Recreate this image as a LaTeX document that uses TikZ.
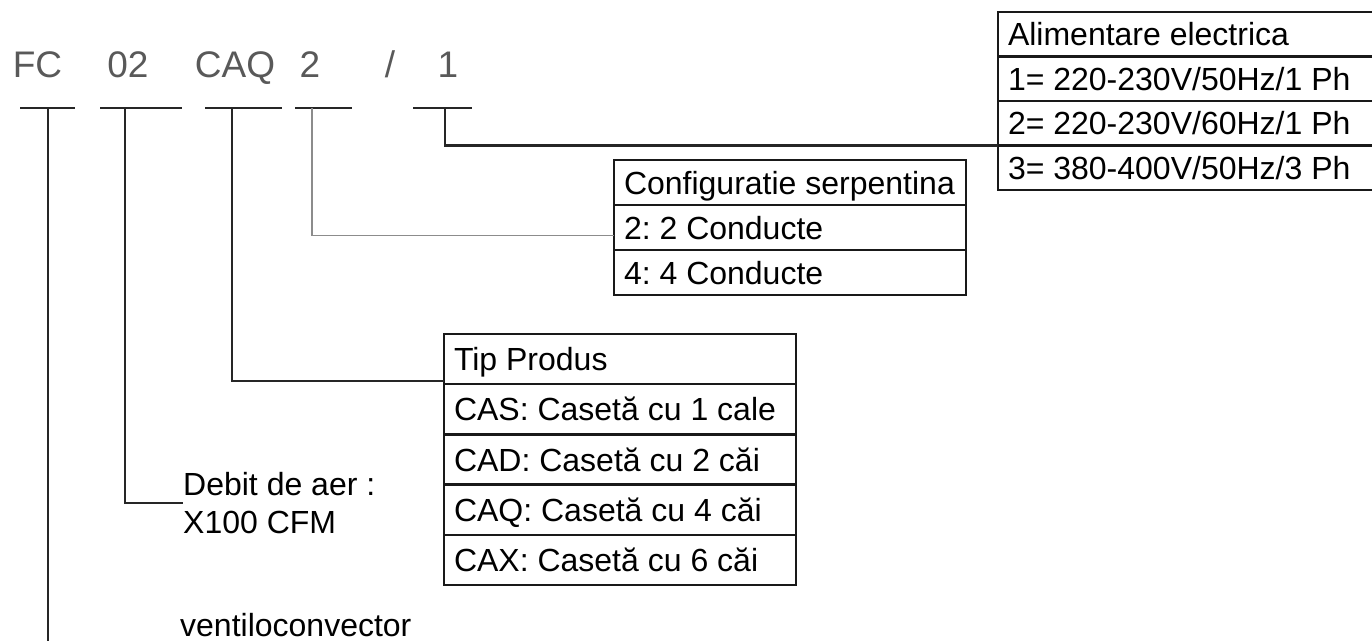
\documentclass[tikz,border=0pt]{standalone}
\usepackage{fontspec}
\setmainfont{Liberation Sans}
\frenchspacing
\newcommand{\cellL}[2]{\makebox[#1][l]{#2}}
\begin{document}
\begin{tikzpicture}[x=1pt,y=-1pt,
  cell/.style={draw=black!90, line width=2.3pt, anchor=north west, inner xsep=10pt, inner ysep=0pt,
    text height=23pt, text depth=0pt, font=\fontsize{32}{38}\selectfont\frenchspacing, outer sep=0pt},
  altab/.style={cell, minimum height=44.5pt},
  cstab/.style={cell, minimum height=45pt},
  tptab/.style={cell, minimum height=50.2pt},
  code/.style={anchor=base, text=black!65, font=\fontsize{37}{40}\selectfont, inner sep=0pt},
  bar/.style={line width=2.2pt, draw=black!85},
  conn/.style={line width=2.2pt, draw=black!85},
  lightconn/.style={line width=1.6pt, draw=black!45},
  lbl/.style={anchor=base west, inner sep=0pt, font=\fontsize{32}{38}\selectfont\frenchspacing}]
\useasboundingbox (0,0) rectangle (1372,640);
\clip (0,0) rectangle (1372,640);

% code tokens
\node[code] (fc)  at (37.5,77) {FC};
\node[code] (n02) at (128,77) {02};
\node[code] (caq) at (235,77) {CAQ};
\node[code] (n2)  at (310,77) {2};
\node[code] (sl)  at (390,77) {/};
\node[code] (n1)  at (448,77) {1};

% T bars
\coordinate (tFC) at (48,108);
\coordinate (t02) at (125,108);
\coordinate (tCAQ) at (232,108);
\coordinate (t2) at (312,108);
\coordinate (t1) at (445,108);
\draw[bar] (20,108) -- (75,108);
\draw[bar] (100,108) -- (182,108);
\draw[bar] (205,108) -- (282,108);
\draw[bar] (295,108) -- (352,108);
\draw[bar] (413,108) -- (472,108);

% Alimentare electrica table
\node[altab] (al0) at (998,12) {\cellL{362pt}{Alimentare electrica}};
\node[altab] (al1) at (al0.south west) {\cellL{362pt}{1= 220-230V/50Hz/1 Ph}};
\node[altab] (al2) at (al1.south west) {\cellL{362pt}{2= 220-230V/60Hz/1 Ph}};
\node[altab] (al3) at (al2.south west) {\cellL{362pt}{3= 380-400V/50Hz/3 Ph}};

% Configuratie serpentina table
\node[cstab] (cs0) at (614,160) {\cellL{332pt}{Configuratie serpentina}};
\node[cstab] (cs1) at (cs0.south west) {\cellL{332pt}{2: 2 Conducte}};
\node[cstab] (cs2) at (cs1.south west) {\cellL{332pt}{4: 4 Conducte}};

% Tip Produs table
\node[tptab] (tp0) at (444,334) {\cellL{332pt}{Tip Produs}};
\node[tptab] (tp1) at (tp0.south west) {\cellL{332pt}{CAS: Casetă cu 1 cale}};
\node[tptab] (tp2) at (tp1.south west) {\cellL{332pt}{CAD: Casetă cu 2 căi}};
\node[tptab] (tp3) at (tp2.south west) {\cellL{332pt}{CAQ: Casetă cu 4 căi}};
\node[tptab] (tp4) at (tp3.south west) {\cellL{332pt}{CAX: Casetă cu 6 căi}};

% labels
\node[lbl] (deb1) at (183,495) {Debit de aer :};
\node[lbl] (deb2) at (183,533) {X100 CFM};
\node[lbl] (vent) at (180,636) {ventiloconvector};

% connectors
\draw[conn] (t1) |- (al2.south west);
\draw[lightconn] (t2) |- ([yshift=-8pt]cs1.west);
\draw[conn] (tCAQ) |- ([yshift=3pt]tp0.south west);
\draw[conn] (t02) |- ([yshift=-8pt]deb1.base west);
\draw[conn] (tFC) |- ([yshift=-14pt]vent.base west);
\end{tikzpicture}
\end{document}
